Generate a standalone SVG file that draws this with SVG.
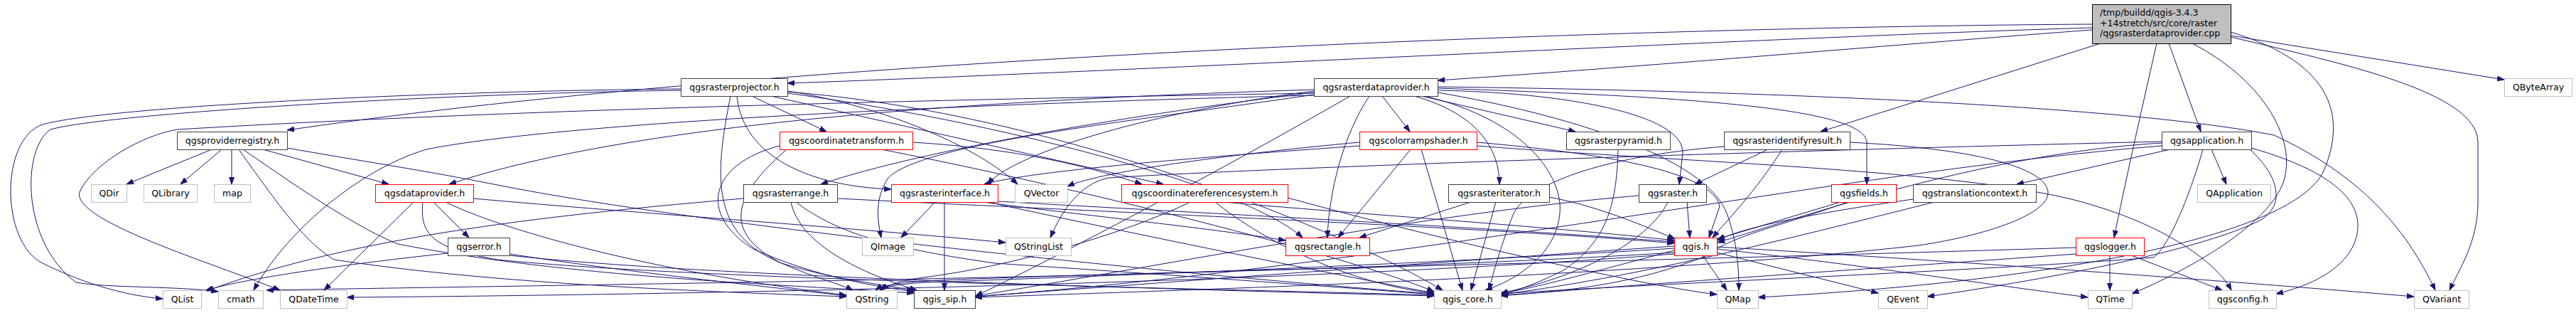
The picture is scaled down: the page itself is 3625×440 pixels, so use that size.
<svg xmlns="http://www.w3.org/2000/svg" width="3625" height="440" viewBox="0 0 3625 440">
<style>
rect{fill:#fff;stroke-width:1}
.b{stroke:#404040}
.r{stroke:#ff0000}
.g{stroke:#bfbfbf}
text{font-family:"DejaVu Sans","Liberation Sans",sans-serif;font-size:12.5px;fill:#000}
.c{text-anchor:middle}
#edges path{fill:none;stroke:#191970;stroke-width:1;marker-end:url(#a)}
</style>
<defs>
<marker id="a" markerWidth="10" markerHeight="8" refX="10" refY="4" orient="auto" markerUnits="userSpaceOnUse"><path d="M0,0.5 L10,4 L0,7.5 z" fill="#191970" stroke="#191970" stroke-width="1"/></marker>
</defs>
<rect x="0" y="0" width="3625" height="440" style="fill:#fff;stroke:none"/>
<g id="edges">
<path d="M2944,34 C2300,38 1100,80 404,183"/>
<path d="M2944,39 C2500,52 1600,100 1108,117"/>
<path d="M2944,42 C2700,60 2300,95 2023,113"/>
<path d="M2956,61 L2562,185"/>
<path d="M3035,61 C3010,170 2990,260 2975,334"/>
<path d="M3052,61 L3097,185"/>
<path d="M3139,50 L3524,112"/>
<path d="M3139,52 C3300,90 3487,130 3487,200 L3487,285 C3487,340 3460,380 3447,408"/>
<path d="M3085,61 C3180,110 3230,190 3215,250 C3200,310 3090,375 3000,413"/>
<path d="M3139,45 C3290,90 3300,170 3270,240 C3230,330 2900,395 2474,418"/>
<path d="M1058,135 L1163,185"/>
<path d="M1037,135 C1045,220 1140,262 1254,266"/>
<path d="M1085,135 L1637,259"/>
<path d="M1108,128 C1250,150 1380,210 1432,259"/>
<path d="M1108,131 C1400,170 1750,260 1833,334"/>
<path d="M958,125 C600,128 150,150 60,175 C0,195 0,340 60,370 C110,395 170,415 229,420"/>
<path d="M958,127 C600,132 150,160 71,182 C30,210 30,340 107,397 C150,405 250,402 307,410"/>
<path d="M1028,135 C1005,250 1000,330 1100,370 C1180,395 1250,400 1286,409"/>
<path d="M1108,129 C1500,160 1900,330 2030,408"/>
<path d="M1945,135 L1984,185"/>
<path d="M1927,135 C1890,190 1870,270 1868,334"/>
<path d="M1990,135 C2080,160 2110,210 2110,259"/>
<path d="M2000,135 L2217,185"/>
<path d="M2005,135 C2150,170 2200,250 2195,300 C2190,360 2130,395 2090,408"/>
<path d="M2023,127 C2200,130 2370,160 2368,215 L2363,259"/>
<path d="M2023,124 C2350,135 2625,150 2627,200 L2627,259"/>
<path d="M2023,122 C2500,128 3000,150 3200,190 C3330,250 3390,330 3427,408"/>
<path d="M1849,126 C1400,140 900,170 632,259"/>
<path d="M1849,128 C1600,160 1420,220 1390,259"/>
<path d="M1849,130 C1600,160 1300,210 1155,259"/>
<path d="M1849,133 C1600,170 1300,200 1250,250 C1230,280 1235,310 1240,334"/>
<path d="M1849,131 C1300,140 700,155 250,182 C200,190 130,230 112,270 C100,310 300,370 394,408"/>
<path d="M1849,134 C1400,145 800,170 600,210 C500,240 400,330 357,408"/>
<path d="M2023,130 C2200,160 2400,220 2430,300 C2445,340 2447,380 2447,408"/>
<path d="M1900,135 C1700,250 1450,380 1373,416"/>
<path d="M298,210 L178,259"/>
<path d="M312,210 L254,259"/>
<path d="M326,210 L326,259"/>
<path d="M370,210 L547,259"/>
<path d="M336,210 C400,300 430,340 470,365 C700,400 1000,410 1191,417"/>
<path d="M342,210 C400,250 500,320 560,343 C800,390 1100,400 1286,412"/>
<path d="M404,208 C500,225 600,240 700,260 C1000,320 1700,390 2018,413"/>
<path d="M582,284 L456,408"/>
<path d="M610,284 L660,334"/>
<path d="M666,279 C900,300 1200,320 1415,341"/>
<path d="M627,284 C700,320 900,380 1191,415"/>
<path d="M595,284 C590,330 610,350 700,365 C1000,395 1700,405 2018,415"/>
<path d="M630,356 C500,370 350,390 290,408"/>
<path d="M717,357 C900,385 1100,405 1191,416"/>
<path d="M717,359 C1000,390 1700,408 2018,416"/>
<path d="M1046,279 C800,300 500,330 291,409"/>
<path d="M1113,284 C1125,340 1200,380 1290,408"/>
<path d="M1120,284 C1180,330 1260,350 1400,370 C1700,390 1900,405 2018,414"/>
<path d="M1178,279 C1600,300 2100,320 2356,342"/>
<path d="M1316,284 L1268,334"/>
<path d="M1329,284 L1329,408"/>
<path d="M1384,284 C1500,300 1700,320 1809,338"/>
<path d="M1404,283 C1700,300 2100,320 2356,340"/>
<path d="M1390,284 C1600,330 1900,390 2018,412"/>
<path d="M1675,284 C1580,330 1420,375 1300,390 C1270,394 1250,400 1240,408"/>
<path d="M1710,284 C1780,340 1900,400 2018,412"/>
<path d="M1722,284 C1900,300 2200,320 2356,338"/>
<path d="M1812,278 C2000,330 2300,400 2416,414"/>
<path d="M1284,200 C1450,210 1550,240 1607,259"/>
<path d="M1107,210 C1050,260 1000,320 1100,370 C1150,392 1185,400 1200,408"/>
<path d="M1097,205 C1000,230 980,300 1060,350 C1150,390 1230,402 1286,410"/>
<path d="M1240,210 C1500,260 1900,360 2018,410"/>
<path d="M1913,205 C1700,220 1450,240 1385,259"/>
<path d="M1913,200 C1750,215 1550,240 1502,262"/>
<path d="M1985,210 L1883,334"/>
<path d="M2000,210 L2058,408"/>
<path d="M2078,205 C2400,230 2800,240 2950,290 C3050,320 3120,370 3140,408"/>
<path d="M2078,200 C2250,215 2410,240 2420,290 L2405,334"/>
<path d="M2070,284 L1913,334"/>
<path d="M2105,284 L2070,408"/>
<path d="M2180,277 C2250,290 2320,320 2357,336"/>
<path d="M2277,210 C2275,290 2260,340 2200,380 C2160,400 2130,410 2112,414"/>
<path d="M2488,210 L2385,259"/>
<path d="M2508,210 C2470,270 2430,310 2410,334"/>
<path d="M2426,206 C2250,220 2150,260 2130,300 C2110,350 2100,390 2095,408"/>
<path d="M2603,200 C2800,210 2880,240 2882,270 C2884,300 2800,330 2700,345 C2300,390 1600,410 1372,418"/>
<path d="M2374,284 L2378,334"/>
<path d="M2347,284 C2320,340 2220,390 2112,412"/>
<path d="M2306,275 C2000,300 1600,380 1372,416"/>
<path d="M2590,284 L2417,336"/>
<path d="M2600,284 C2500,320 2440,330 2400,360 C2300,400 2200,410 2112,415"/>
<path d="M2692,280 C2550,300 2450,320 2417,338"/>
<path d="M2722,284 C2500,340 2300,390 2112,414"/>
<path d="M3054,210 L2838,259"/>
<path d="M3112,210 L3133,259"/>
<path d="M3042,199 C2500,212 1800,235 1560,250 C1520,258 1495,295 1478,334"/>
<path d="M3042,201 C2800,215 2550,300 2417,341"/>
<path d="M3168,208 C3280,240 3320,280 3318,320 C3315,370 3260,400 3203,413"/>
<path d="M3166,210 C3210,250 3215,290 3180,310 C3100,350 2900,390 2712,417"/>
<path d="M3100,210 C3080,280 3050,350 3030,362 C2800,380 2300,400 2112,413"/>
<path d="M3042,205 C2600,240 2000,370 1372,417"/>
<path d="M2969,359 L2969,408"/>
<path d="M2999,359 L3127,408"/>
<path d="M2921,348 C2400,365 1500,385 1300,395 C1260,398 1240,402 1232,408"/>
<path d="M2921,357 C2600,380 2300,400 2112,416"/>
<path d="M2396,359 L2430,408"/>
<path d="M2416,355 L2643,412"/>
<path d="M2416,350 C2600,370 2800,400 2938,418"/>
<path d="M2416,347 C2800,370 3200,400 3397,417"/>
<path d="M2356,352 C2250,380 2180,400 2112,413"/>
<path d="M2356,346 C2000,370 1600,400 1372,417"/>
<path d="M2356,349 C2000,372 1500,390 1300,397 C1260,400 1245,403 1238,408"/>
<path d="M2356,355 C1800,390 800,400 375,408"/>
<path d="M2356,357 C1800,400 900,415 488,418"/>
</g>
<g id="n_root"><rect x="2944.5" y="6.5" width="195" height="55" style="fill:#bfbfbf;stroke:#000"/><text x="2955" y="22">/tmp/buildd/qgis-3.4.3</text><text x="2955" y="36.5">+14stretch/src/core/raster</text><text x="2955" y="51">/qgsrasterdataprovider.cpp</text></g>
<g id="n_qgsproviderregistry"><rect class="b" x="249.5" y="185.5" width="155" height="25"/><text class="c" x="327" y="202">qgsproviderregistry.h</text></g>
<g id="n_qgsrasterprojector"><rect class="b" x="958.5" y="110.5" width="150" height="25"/><text class="c" x="1033.5" y="127">qgsrasterprojector.h</text></g>
<g id="n_qgsrasterdataprovider"><rect class="b" x="1849.5" y="110.5" width="174" height="25"/><text class="c" x="1936.5" y="127">qgsrasterdataprovider.h</text></g>
<g id="n_QByteArray"><rect class="g" x="3524.5" y="110.5" width="95" height="25"/><text class="c" x="3572" y="127">QByteArray</text></g>
<g id="n_qgscoordinatetransform"><rect class="r" x="1097.5" y="185.5" width="187" height="25"/><text class="c" x="1191" y="202">qgscoordinatetransform.h</text></g>
<g id="n_qgscolorrampshader"><rect class="r" x="1913.5" y="185.5" width="165" height="25"/><text class="c" x="1996" y="202">qgscolorrampshader.h</text></g>
<g id="n_qgsrasterpyramid"><rect class="b" x="2204.5" y="185.5" width="146" height="25"/><text class="c" x="2277.5" y="202">qgsrasterpyramid.h</text></g>
<g id="n_qgsrasteridentifyresult"><rect class="b" x="2426.5" y="185.5" width="177" height="25"/><text class="c" x="2515" y="202">qgsrasteridentifyresult.h</text></g>
<g id="n_qgsapplication"><rect class="b" x="3042.5" y="185.5" width="126" height="25"/><text class="c" x="3105.5" y="202">qgsapplication.h</text></g>
<g id="n_QDir"><rect class="g" x="128.5" y="259.5" width="50" height="25"/><text class="c" x="153.5" y="276">QDir</text></g>
<g id="n_QLibrary"><rect class="g" x="202.5" y="259.5" width="75" height="25"/><text class="c" x="240" y="276">QLibrary</text></g>
<g id="n_map"><rect class="g" x="301.5" y="259.5" width="51" height="25"/><text class="c" x="327" y="276">map</text></g>
<g id="n_qgsdataprovider"><rect class="r" x="528.5" y="259.5" width="138" height="25"/><text class="c" x="597.5" y="276">qgsdataprovider.h</text></g>
<g id="n_qgsrasterrange"><rect class="b" x="1046.5" y="259.5" width="132" height="25"/><text class="c" x="1112.5" y="276">qgsrasterrange.h</text></g>
<g id="n_qgsrasterinterface"><rect class="r" x="1254.5" y="259.5" width="150" height="25"/><text class="c" x="1329.5" y="276">qgsrasterinterface.h</text></g>
<g id="n_QVector"><rect class="g" x="1428.5" y="259.5" width="74" height="25"/><text class="c" x="1465.5" y="276">QVector</text></g>
<g id="n_qgscoordinatereferencesystem"><rect class="r" x="1578.5" y="259.5" width="234" height="25"/><text class="c" x="1695.5" y="276">qgscoordinatereferencesystem.h</text></g>
<g id="n_qgsrasteriterator"><rect class="b" x="2038.5" y="259.5" width="142" height="25"/><text class="c" x="2109.5" y="276">qgsrasteriterator.h</text></g>
<g id="n_qgsraster"><rect class="b" x="2306.5" y="259.5" width="95" height="25"/><text class="c" x="2354" y="276">qgsraster.h</text></g>
<g id="n_qgsfields"><rect class="r" x="2577.5" y="259.5" width="91" height="25"/><text class="c" x="2623" y="276">qgsfields.h</text></g>
<g id="n_qgstranslationcontext"><rect class="b" x="2692.5" y="259.5" width="173" height="25"/><text class="c" x="2779" y="276">qgstranslationcontext.h</text></g>
<g id="n_QApplication"><rect class="g" x="3092.5" y="259.5" width="103" height="25"/><text class="c" x="3144" y="276">QApplication</text></g>
<g id="n_qgserror"><rect class="b" x="630.5" y="334.5" width="87" height="25"/><text class="c" x="674" y="351">qgserror.h</text></g>
<g id="n_QImage"><rect class="g" x="1213.5" y="334.5" width="72" height="25"/><text class="c" x="1249.5" y="351">QImage</text></g>
<g id="n_QStringList"><rect class="g" x="1415.5" y="334.5" width="92" height="25"/><text class="c" x="1461.5" y="351">QStringList</text></g>
<g id="n_qgsrectangle"><rect class="r" x="1809.5" y="334.5" width="118" height="25"/><text class="c" x="1868.5" y="351">qgsrectangle.h</text></g>
<g id="n_qgis"><rect class="r" x="2356.5" y="334.5" width="60" height="25"/><text class="c" x="2386.5" y="351">qgis.h</text></g>
<g id="n_qgslogger"><rect class="r" x="2921.5" y="334.5" width="96" height="25"/><text class="c" x="2969.5" y="351">qgslogger.h</text></g>
<g id="n_QList"><rect class="g" x="229.5" y="408.5" width="54" height="25"/><text class="c" x="256.5" y="425">QList</text></g>
<g id="n_cmath"><rect class="g" x="307.5" y="408.5" width="63" height="25"/><text class="c" x="339" y="425">cmath</text></g>
<g id="n_QDateTime"><rect class="g" x="394.5" y="408.5" width="94" height="25"/><text class="c" x="441.5" y="425">QDateTime</text></g>
<g id="n_QString"><rect class="g" x="1191.5" y="408.5" width="71" height="25"/><text class="c" x="1227" y="425">QString</text></g>
<g id="n_qgis_sip"><rect class="b" x="1286.5" y="408.5" width="86" height="25"/><text class="c" x="1329.5" y="425">qgis_sip.h</text></g>
<g id="n_qgis_core"><rect class="g" x="2018.5" y="408.5" width="94" height="25"/><text class="c" x="2065.5" y="425">qgis_core.h</text></g>
<g id="n_QMap"><rect class="g" x="2416.5" y="408.5" width="58" height="25"/><text class="c" x="2445.5" y="425">QMap</text></g>
<g id="n_QEvent"><rect class="g" x="2643.5" y="408.5" width="69" height="25"/><text class="c" x="2678" y="425">QEvent</text></g>
<g id="n_QTime"><rect class="g" x="2938.5" y="408.5" width="62" height="25"/><text class="c" x="2969.5" y="425">QTime</text></g>
<g id="n_qgsconfig"><rect class="g" x="3108.5" y="408.5" width="95" height="25"/><text class="c" x="3156" y="425">qgsconfig.h</text></g>
<g id="n_QVariant"><rect class="g" x="3397.5" y="408.5" width="77" height="25"/><text class="c" x="3436" y="425">QVariant</text></g>
</svg>
